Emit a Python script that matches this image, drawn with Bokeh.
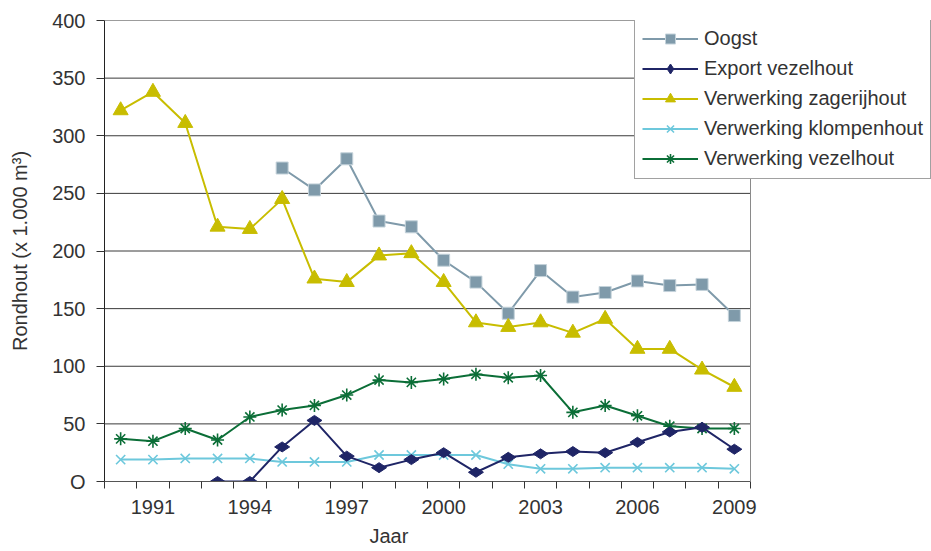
import numpy as np
from bokeh.plotting import figure
from bokeh.models import FixedTicker, Legend, LegendItem, Title, Range1d, Span
from bokeh.embed import file_html
from bokeh.resources import INLINE

# ---- data ----
years = list(range(1990, 2010))
tick_years = [1991, 1994, 1997, 2000, 2003, 2006, 2009]
oogst = [None, None, None, None, None, 272, 253, 280, 226, 221, 192, 173, 146, 183, 160, 164, 174, 170, 171, 144]
export_vezel = [None, None, None, 0, 0, 30, 53, 22, 12, 19, 25, 8, 21, 24, 26, 25, 34, 43, 47, 28]
zagerij = [322, 338, 311, 221, 219, 245, 176, 173, 196, 198, 173, 138, 134, 138, 129, 141, 115, 115, 97, 82]
klompen = [19, 19, 20, 20, 20, 17, 17, 17, 23, 23, 23, 23, 15, 11, 11, 12, 12, 12, 12, 11]
verw_vezel = [37, 35, 46, 36, 56, 62, 66, 75, 88, 86, 89, 93, 90, 92, 60, 66, 57, 48, 46, 46]
y_ticks = [0, 50, 100, 150, 200, 250, 300, 350, 400]

FONT = "Liberation Sans"
TXT = "#333333"

def arr(v):
    return np.array([np.nan if a is None else a for a in v], dtype=float)

x = np.array(years, dtype=float)
x_lo = years[0] - 0.5
x_hi = years[-1] + 0.5

# layout: data area 646 px wide, frame extended to the right so the legend can overhang
DATA_W = 646
FRAME_W = 827
px_per_year = DATA_W / (x_hi - x_lo)
x_end = x_lo + FRAME_W / px_per_year

p = figure(frame_width=FRAME_W, frame_height=461,
           x_range=Range1d(x_lo, x_end),
           y_range=Range1d(y_ticks[0], y_ticks[-1]),
           output_backend="svg", toolbar_location=None,
           min_border_left=104, min_border_right=0,
           min_border_top=20, min_border_bottom=70)

p.background_fill_color = "white"
p.outline_line_color = None

# axes
p.xaxis.bounds = (x_lo, x_hi)
p.xaxis.ticker = FixedTicker(ticks=tick_years,
                             minor_ticks=[yr - 0.5 for yr in years] + [x_hi])
p.xaxis.major_tick_out = 0
p.xaxis.major_tick_in = 0
p.xaxis.minor_tick_out = 7
p.xaxis.minor_tick_in = 0
p.xaxis.minor_tick_line_color = "#333333"
p.xaxis.axis_line_color = "#555555"
p.xaxis.major_label_standoff = 11
p.xaxis.major_label_text_font = FONT
p.xaxis.major_label_text_font_size = "20px"
p.xaxis.major_label_text_color = TXT

p.yaxis.ticker = FixedTicker(ticks=y_ticks)
p.yaxis.major_label_overrides = {0: "O"}
p.yaxis.major_tick_out = 8
p.yaxis.major_tick_in = 0
p.yaxis.minor_tick_out = 0
p.yaxis.minor_tick_in = 0
p.yaxis.major_tick_line_color = "#333333"
p.yaxis.axis_line_color = "#222222"
p.yaxis.major_label_standoff = 11
p.yaxis.major_label_text_font = FONT
p.yaxis.major_label_text_font_size = "20px"
p.yaxis.major_label_text_color = TXT
p.yaxis.axis_label = "Rondhout (x 1.000 m³)"
p.yaxis.axis_label_text_font = FONT
p.yaxis.axis_label_text_font_size = "20px"
p.yaxis.axis_label_text_font_style = "normal"
p.yaxis.axis_label_text_color = TXT
p.yaxis.axis_label_standoff = 18

# grid lines limited to the data area
p.xgrid.grid_line_color = None
p.ygrid.grid_line_color = None
gy = y_ticks[1:]
p.segment(x0=[x_lo] * len(gy), y0=gy, x1=[x_hi] * len(gy), y1=gy,
          line_color="#3a3a3a", line_width=1)
p.add_layout(Span(location=x_hi, dimension="height", line_color="#8a8a8a", line_width=1))

p.add_layout(Title(text="Jaar", align="left", offset=265, standoff=13,
                   text_font=FONT, text_font_size="20px", text_font_style="normal",
                   text_color=TXT), "below")

# series
C_OOGST = "#7f9aaa"
C_EXPORT = "#1f2566"
C_ZAGER = "#c8bd00"
C_KLOMP = "#6dc8dc"
C_VEZEL = "#0b6e37"

l1 = p.line(x, arr(oogst), line_color=C_OOGST, line_width=2)
m1 = p.scatter(x, arr(oogst), marker="square", size=12, fill_color=C_OOGST,
               line_color="#c4d2da", line_width=1)

l3 = p.line(x, arr(zagerij), line_color=C_ZAGER, line_width=2)
m3 = p.scatter(x, arr(zagerij), marker="triangle", size=15, fill_color=C_ZAGER,
               line_color=C_ZAGER, line_width=1)

l5 = p.line(x, arr(verw_vezel), line_color=C_VEZEL, line_width=2)
m5 = p.scatter(x, arr(verw_vezel), marker="asterisk", size=13, line_color=C_VEZEL,
               line_width=1.6)

l4 = p.line(x, arr(klompen), line_color=C_KLOMP, line_width=2)
m4 = p.scatter(x, arr(klompen), marker="x", size=13, line_color=C_KLOMP,
               line_width=1.6)

l2 = p.line(x, arr(export_vezel), line_color=C_EXPORT, line_width=2)
m2 = p.scatter(x, arr(export_vezel), marker="diamond", size=15, angle=np.pi / 2,
               fill_color=C_EXPORT, line_color=C_EXPORT, line_width=1)

items = [
    LegendItem(label="Oogst", renderers=[l1, m1]),
    LegendItem(label="Export vezelhout", renderers=[l2, m2]),
    LegendItem(label="Verwerking zagerijhout", renderers=[l3, m3]),
    LegendItem(label="Verwerking klompenhout", renderers=[l4, m4]),
    LegendItem(label="Verwerking vezelhout", renderers=[l5, m5]),
]

legend = Legend(items=items, location=(530, 302), margin=0, padding=7,
                spacing=5, glyph_width=56, glyph_height=25, label_height=25,
                label_standoff=6, label_text_font=FONT, label_text_font_size="20px",
                label_text_color=TXT, border_line_color="#444444", border_line_width=1,
                background_fill_color="white", background_fill_alpha=1)
p.add_layout(legend)

open("out.html", "w").write(file_html(p, INLINE))
